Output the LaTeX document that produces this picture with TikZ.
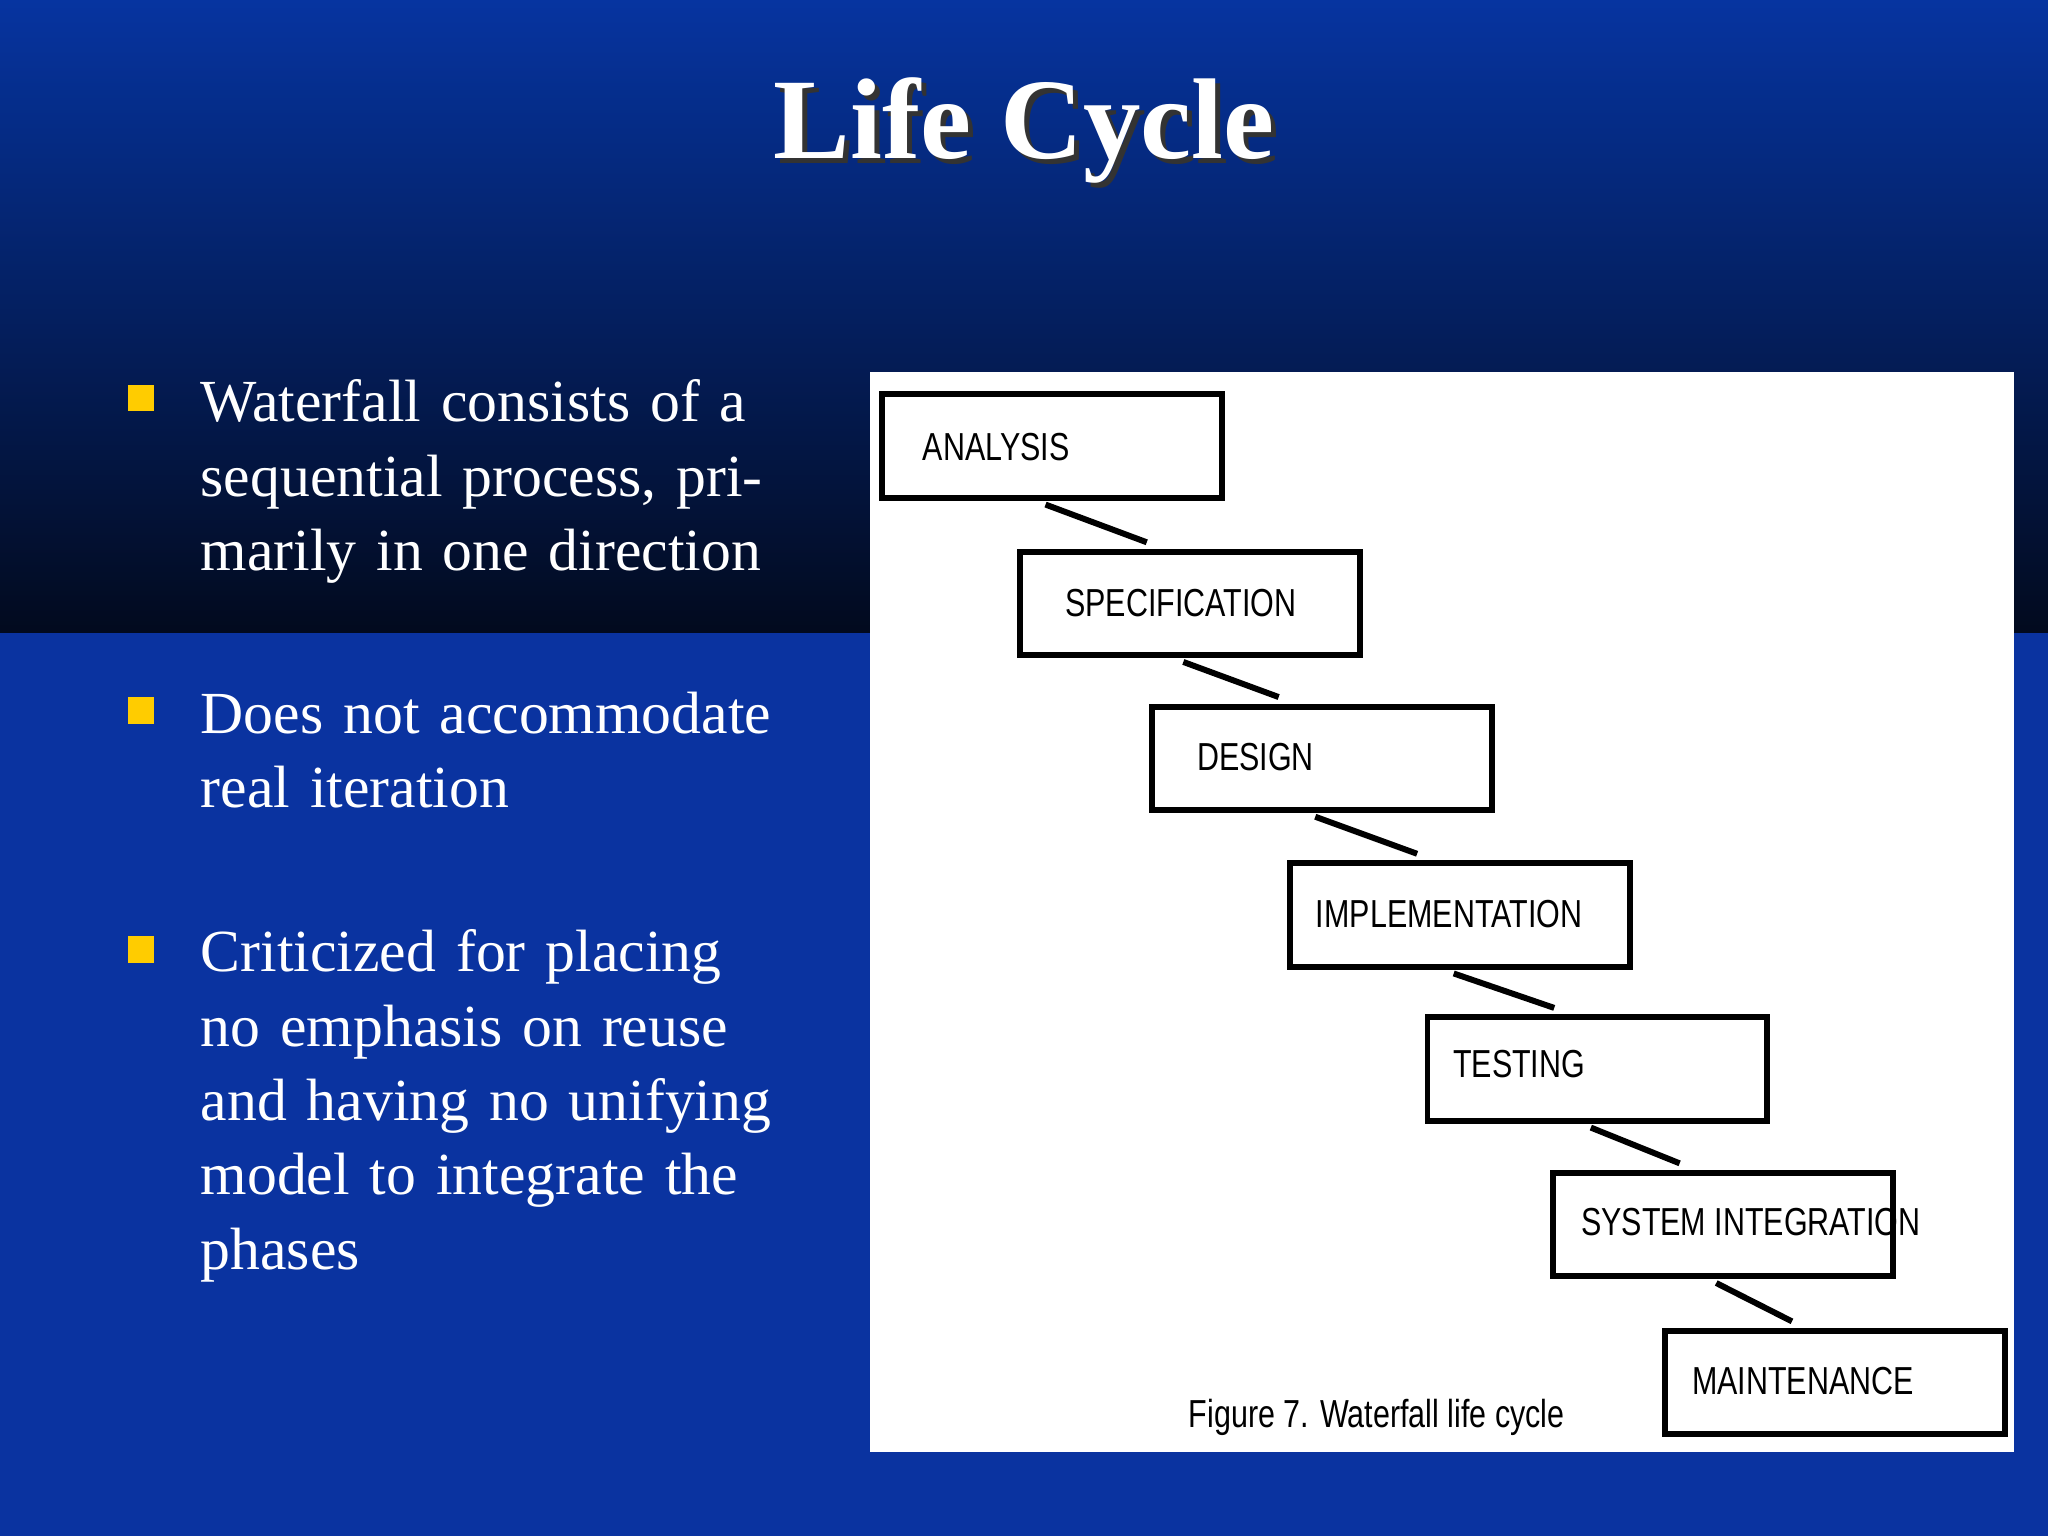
\documentclass[tikz,border=0pt]{standalone}
\usepackage{fontspec}
\setmainfont{Liberation Serif}
\newfontfamily\boxfont{Liberation Sans}
\definecolor{bgblue}{HTML}{0A33A0}
\definecolor{topblue}{HTML}{0634A0}
\definecolor{darkbg}{HTML}{020A1E}
\definecolor{bullety}{HTML}{FFCC00}
\tikzset{
  stage/.style={draw=black,line width=1.3pt,minimum width=2.6cm,minimum height=0.79cm,inner sep=0pt},
  stagetext/.style={font=\boxfont\fontsize{8.5pt}{10pt}\selectfont,anchor=west,xscale=0.78,inner sep=0pt},
  link/.style={line width=1.3pt},
  bul/.style={font=\fontsize{13pt}{16.2pt}\selectfont,text=white,anchor=north west,align=left,text width=4.8cm,inner sep=0pt},
  sq/.style={fill=bullety,minimum size=0.2cm,inner sep=0pt}
}
\begin{document}
\begin{tikzpicture}[x=0.01cm,y=-0.01cm]
\useasboundingbox (0,0) rectangle (1568,1176);
\fill[bgblue] (0,0) rectangle (1568,1176);
\shade[top color=topblue,bottom color=darkbg] (0,0) rectangle (1568,484);
% title
\node[text=black!80,font=\bfseries\fontsize{25pt}{30pt}\selectfont] at (788,104) {Life Cycle};
\node[text=white,font=\bfseries\fontsize{25pt}{30pt}\selectfont] (title) at (784,100) {Life Cycle};
% bullets
\node[sq] (s1) at (108,305) {};
\node[bul] (b1) at (153,290) {Waterfall consists of a sequential process, primarily in one direction};
\node[sq] (s2) at (108,544) {};
\node[bul] (b2) at (153,529) {Does not accommodate real iteration};
\node[sq] (s3) at (108,727) {};
\node[bul] (b3) at (153,711) {Criticized for placing no emphasis on reuse and having no unifying model to integrate the phases};
% panel
\fill[white] (666,285) rectangle (1542,1112);
\node[stage] (a) at (805.5,341.5) {};
\node[stage] (s) at (911,462) {};
\node[stage] (d) at (1012,580.5) {};
\node[stage] (i) at (1118,700.5) {};
\node[stage] (t) at (1223,818.5) {};
\node[stage] (y) at (1319,937.5) {};
\node[stage] (m) at (1405,1058.5) {};
\node[stagetext] at (706,342) {ANALYSIS};
\node[stagetext] at (815,462) {SPECIFICATION};
\node[stagetext] at (916,580) {DESIGN};
\node[stagetext] at (1007,700) {IMPLEMENTATION};
\node[stagetext] at (1112,815) {TESTING};
\node[stagetext] at (1210,936) {SYSTEM INTEGRATION};
\node[stagetext] at (1295,1057) {MAINTENANCE};
\foreach \p/\q in {a/s,s/d,d/i,i/t,t/y,y/m}{
  \draw[link] ([xshift=-0.05cm,yshift=-0.03cm]\p.south) -- ([xshift=-0.33cm,yshift=0.05cm]\q.north);
}
\node[font=\boxfont\fontsize{8.5pt}{10pt}\selectfont,xscale=0.78] (cap) at (1054,1085) {Figure 7. Waterfall life cycle};
\end{tikzpicture}
\end{document}
